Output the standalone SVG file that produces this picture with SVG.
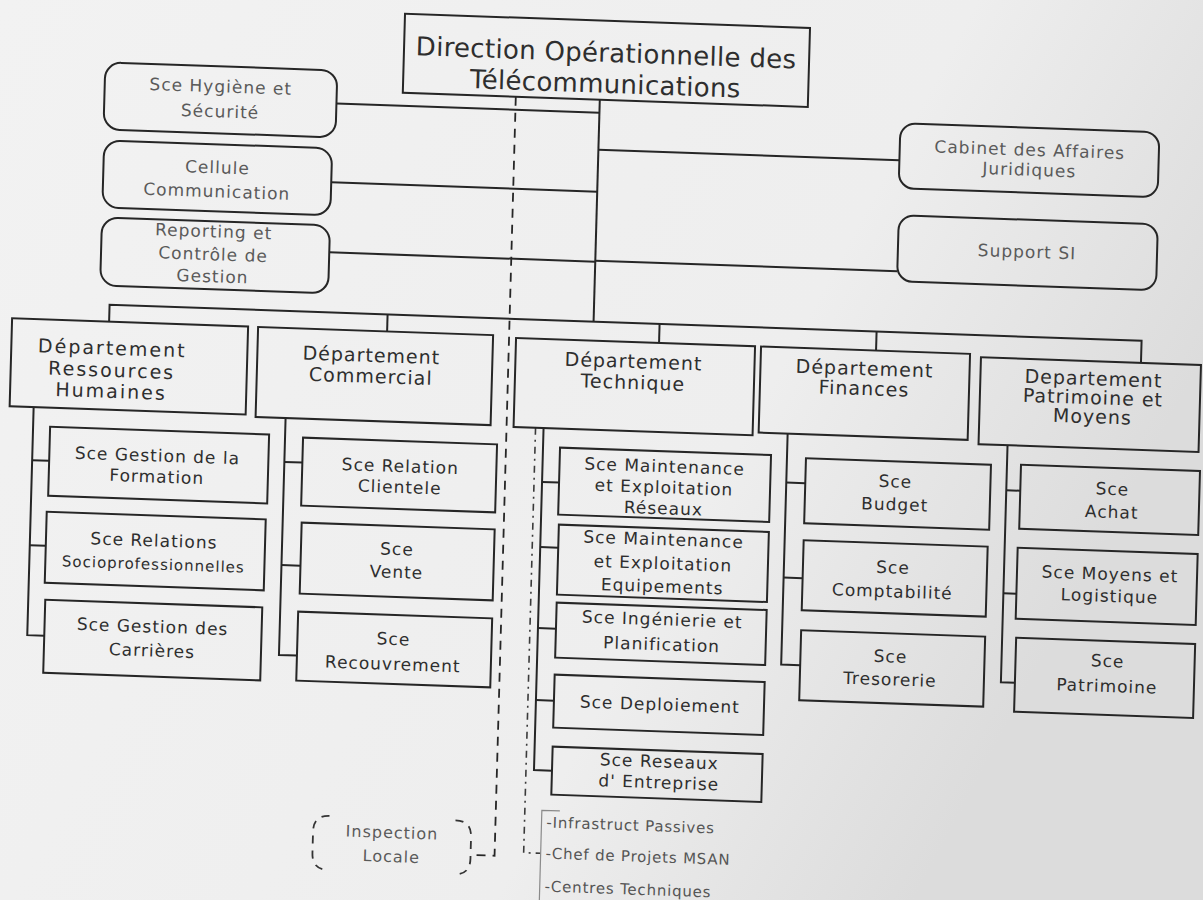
<svg xmlns="http://www.w3.org/2000/svg" width="1203" height="900" viewBox="0 0 1203 900">
  <defs>
    <linearGradient id="paper" x1="0" y1="0" x2="1" y2="0.4">
      <stop offset="0" stop-color="#f2f2f2"/>
      <stop offset="0.7" stop-color="#eeeeee"/>
      <stop offset="1" stop-color="#dcdcdc"/>
    </linearGradient>
    <style>
      .box { fill: none; stroke: #262626; stroke-width: 2; }
      .ln { fill: none; stroke: #262626; stroke-width: 2; }
      .dash { fill: none; stroke: #262626; stroke-width: 1.8; stroke-dasharray: 9 7; }
      .dashdot { fill: none; stroke: #3a3a3a; stroke-width: 1.6; stroke-dasharray: 7 5 2 5; }
      .thin { fill: none; stroke: #8a8a8a; stroke-width: 1.2; }
      .brk { fill: none; stroke: #333; stroke-width: 1.8; stroke-dasharray: 8 7; }
      text { font-family: "DejaVu Sans", "Liberation Sans", sans-serif; text-anchor: middle; fill: #2e2e2e; }
      .h { font-size: 26px; letter-spacing: 0.3px; }
      .s { font-size: 17px; letter-spacing: 1px; fill: #5a5a5a; }
      .d { font-size: 19px; letter-spacing: 1px; }
      .d.wide { letter-spacing: 2px; }
      .v { font-size: 17px; letter-spacing: 1px; }
      .v.sm { font-size: 15px; }
      .lst { font-size: 15px; letter-spacing: 0.8px; fill: #555; text-anchor: start; }
    </style>
  </defs>

  <rect width="1203" height="900" fill="url(#paper)"/>

  <!-- the sheet is slightly skewed; everything is laid out square and sheared once -->
  <g transform="matrix(1 0.035 -0.028 1 12.6 -21)">

    <g id="connectors">
      <!-- direction trunk and staff links -->
      <path class="ln" d="M590 100 V322"/>
      <path class="ln" d="M327 113 H590"/>
      <path class="ln" d="M324 192 H590"/>
      <path class="ln" d="M324 262 H590"/>
      <path class="ln" d="M590 150 H891"/>
      <path class="ln" d="M590 261 H892"/>
      <!-- department bus -->
      <path class="ln" d="M106 339 V322 H1138 V344"/>
      <path class="ln" d="M384 322 V339"/>
      <path class="ln" d="M656 322 V341"/>
      <path class="ln" d="M873 322 V341"/>
      <!-- RH services -->
      <path class="ln" d="M33 427 V655 H50"/>
      <path class="ln" d="M33 480 H50"/>
      <path class="ln" d="M33 565 H49"/>
      <!-- Commercial services -->
      <path class="ln" d="M285 429 V666 H303"/>
      <path class="ln" d="M285 473 H303"/>
      <path class="ln" d="M285 576 H304"/>
      <!-- Technique services -->
      <path class="ln" d="M543 430 V772 H561"/>
      <path class="ln" d="M543 484 H560"/>
      <path class="ln" d="M543 549 H561"/>
      <path class="ln" d="M543 630 H561"/>
      <path class="ln" d="M543 702 H561"/>
      <!-- Finances services -->
      <path class="ln" d="M787 427 V658 H806"/>
      <path class="ln" d="M787 476 H806"/>
      <path class="ln" d="M787 571 H806"/>
      <!-- Patrimoine services -->
      <path class="ln" d="M1007 431 V668 H1021"/>
      <path class="ln" d="M1007 476 H1021"/>
      <path class="ln" d="M1007 579 H1020"/>
      <!-- functional (dotted) links -->
      <path class="dash" d="M506 100 V859 H484"/>
      <path class="dashdot" d="M535 430 V855 H552"/>
      <path class="thin" d="M570 812 H552 V905"/>
    </g>

    <g id="direction">
      <rect class="box" x="393" y="21" width="405" height="79"/>
      <text class="h" x="595" y="62">Direction Opérationnelle des</text>
      <text class="h" x="595" y="93">Télécommunications</text>
    </g>

    <g id="hygiene">
      <rect class="box" x="95" y="80" width="232" height="67" rx="16"/>
      <text class="s" x="211" y="106">Sce Hygiène  et</text>
      <text class="s" x="211" y="131">Sécurité</text>
    </g>
    <g id="communication">
      <rect class="box" x="96" y="158" width="228" height="67" rx="16"/>
      <text class="s" x="210" y="187">Cellule</text>
      <text class="s" x="210" y="211">Communication</text>
    </g>
    <g id="reporting">
      <rect class="box" x="96" y="235" width="228" height="68" rx="16"/>
      <text class="s" x="208" y="251">Reporting et</text>
      <text class="s" x="208" y="274">Contrôle de</text>
      <text class="s" x="208" y="296">Gestion</text>
    </g>
    <g id="juridique">
      <rect class="box" x="891" y="113" width="259" height="65" rx="15"/>
      <text class="s" x="1021" y="141">Cabinet des Affaires</text>
      <text class="s" x="1021" y="161">Juridiques</text>
    </g>
    <g id="support-si">
      <rect class="box" x="892" y="205" width="259" height="66" rx="15"/>
      <text class="s" x="1021" y="243">Support SI</text>
    </g>

    <g id="dep-rh">
      <rect class="box" x="9" y="339" width="236" height="88"/>
      <text class="d wide" x="110" y="372">Département</text>
      <text class="d wide" x="110" y="394">Ressources</text>
      <text class="d wide" x="110" y="415">Humaines</text>
    </g>
    <g id="dep-commercial">
      <rect class="box" x="255" y="339" width="235" height="90"/>
      <text class="d" x="369" y="370">Département</text>
      <text class="d" x="369" y="391">Commercial</text>
    </g>
    <g id="dep-technique">
      <rect class="box" x="513" y="341" width="239" height="89"/>
      <text class="d" x="631" y="367">Département</text>
      <text class="d" x="631" y="388">Technique</text>
    </g>
    <g id="dep-finances">
      <rect class="box" x="758" y="341" width="209" height="86"/>
      <text class="d" x="862" y="366">Département</text>
      <text class="d" x="862" y="386">Finances</text>
    </g>
    <g id="dep-patrimoine">
      <rect class="box" x="978" y="344" width="220" height="87"/>
      <text class="d" x="1091" y="368">Departement</text>
      <text class="d" x="1091" y="387">Patrimoine  et</text>
      <text class="d" x="1091" y="406">Moyens</text>
    </g>

    <g id="sce-formation">
      <rect class="box" x="50" y="446" width="219" height="69"/>
      <text class="v" x="158" y="477">Sce Gestion de la</text>
      <text class="v" x="158" y="498">Formation</text>
    </g>
    <g id="sce-relations">
      <rect class="box" x="49" y="531" width="219" height="71"/>
      <text class="v" x="157" y="562">Sce Relations</text>
      <text class="v sm" x="157" y="585">Socioprofessionnelles</text>
    </g>
    <g id="sce-carrieres">
      <rect class="box" x="50" y="619" width="217" height="73"/>
      <text class="v" x="158" y="648">Sce Gestion des</text>
      <text class="v" x="158" y="672">Carrières</text>
    </g>

    <g id="sce-clientele">
      <rect class="box" x="303" y="448" width="194" height="68"/>
      <text class="v" x="401" y="479">Sce Relation</text>
      <text class="v" x="401" y="500">Clientele</text>
    </g>
    <g id="sce-vente">
      <rect class="box" x="304" y="533" width="193" height="71"/>
      <text class="v" x="400" y="562">Sce</text>
      <text class="v" x="400" y="585">Vente</text>
    </g>
    <g id="sce-recouvrement">
      <rect class="box" x="303" y="622" width="194" height="69"/>
      <text class="v" x="399" y="652">Sce</text>
      <text class="v" x="399" y="677">Recouvrement</text>
    </g>

    <g id="sce-reseaux">
      <rect class="box" x="560" y="449" width="211" height="67"/>
      <text class="v" x="665" y="470">Sce Maintenance</text>
      <text class="v" x="665" y="491">et Exploitation</text>
      <text class="v" x="665" y="512">Réseaux</text>
    </g>
    <g id="sce-equipements">
      <rect class="box" x="561" y="526" width="210" height="70"/>
      <text class="v" x="666" y="543">Sce Maintenance</text>
      <text class="v" x="666" y="567">et Exploitation</text>
      <text class="v" x="666" y="590">Equipements</text>
    </g>
    <g id="sce-ingenierie">
      <rect class="box" x="561" y="604" width="210" height="55"/>
      <text class="v" x="667" y="623">Sce Ingénierie et</text>
      <text class="v" x="667" y="648">Planification</text>
    </g>
    <g id="sce-deploiement">
      <rect class="box" x="561" y="676" width="210" height="53"/>
      <text class="v" x="667" y="708">Sce Deploiement</text>
    </g>
    <g id="sce-entreprise">
      <rect class="box" x="561" y="748" width="210" height="48"/>
      <text class="v" x="668" y="765">Sce Reseaux</text>
      <text class="v" x="668" y="786">d' Entreprise</text>
    </g>

    <g id="sce-budget">
      <rect class="box" x="806" y="451" width="185" height="65"/>
      <text class="v" x="896" y="477">Sce</text>
      <text class="v" x="896" y="500">Budget</text>
    </g>
    <g id="sce-comptabilite">
      <rect class="box" x="806" y="533" width="184" height="70"/>
      <text class="v" x="896" y="563">Sce</text>
      <text class="v" x="896" y="587">Comptabilité</text>
    </g>
    <g id="sce-tresorerie">
      <rect class="box" x="806" y="623" width="184" height="70"/>
      <text class="v" x="896" y="652">Sce</text>
      <text class="v" x="896" y="675">Tresorerie</text>
    </g>

    <g id="sce-achat">
      <rect class="box" x="1021" y="450" width="179" height="64"/>
      <text class="v" x="1113" y="477">Sce</text>
      <text class="v" x="1113" y="500">Achat</text>
    </g>
    <g id="sce-logistique">
      <rect class="box" x="1020" y="533" width="180" height="71"/>
      <text class="v" x="1113" y="562">Sce Moyens et</text>
      <text class="v" x="1113" y="584">Logistique</text>
    </g>
    <g id="sce-patrimoine">
      <rect class="box" x="1021" y="623" width="179" height="74"/>
      <text class="v" x="1113" y="649">Sce</text>
      <text class="v" x="1113" y="674">Patrimoine</text>
    </g>

    <g id="inspection">
      <path class="brk" d="M340 825 Q324 825 324 841 V863 Q324 879 340 879"/>
      <path class="brk" d="M466 825 Q482 825 482 841 V863 Q482 879 466 879"/>
      <text class="s" x="403" y="845" style="font-size:16px">Inspection</text>
      <text class="s" x="403" y="869" style="font-size:16px">Locale</text>
    </g>

    <g id="technique-units">
      <text class="lst" x="557" y="829">-Infrastruct Passives</text>
      <text class="lst" x="557" y="860">-Chef de Projets MSAN</text>
      <text class="lst" x="557" y="893">-Centres Techniques</text>
    </g>
  </g>
</svg>
